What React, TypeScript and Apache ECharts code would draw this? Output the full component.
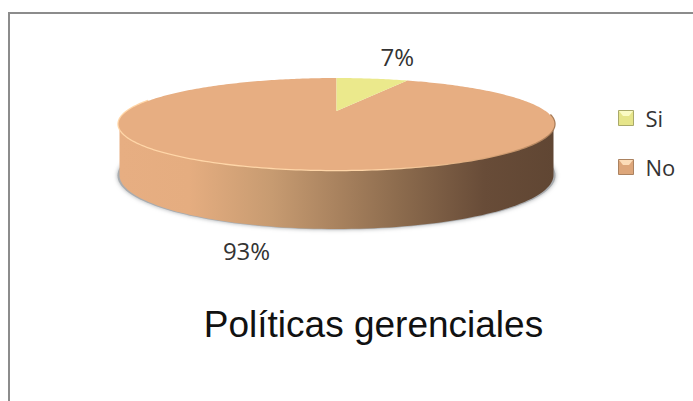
import React, { useEffect, useRef } from "react";
import * as echarts from "echarts";

const categories = ["Si", "No"];
const values = [7, 93];
const sliceColors = ["#ebe98c", "#e7ae82"];
const chartTitle = "Políticas gerenciales";

// Perspective projection of the pie disc onto the page
const APEX_X = 336.5;
const APEX_Y = 111;
const SCALE_X = 209;
const SCALE_Y = 42.3;
const TILT = 0.2828;

function project(angleDeg: number) {
  const t = (angleDeg * Math.PI) / 180;
  const u = Math.sin(t);
  const v = -Math.cos(t);
  const d = 1 - TILT * v;
  return [APEX_X + (SCALE_X * u) / d, APEX_Y + (SCALE_Y * v) / d];
}

function arcPoints(from: number, to: number) {
  const pts: number[][] = [];
  const n = Math.max(2, Math.ceil(Math.abs(to - from)));
  for (let i = 0; i <= n; i++) pts.push(project(from + ((to - from) * i) / n));
  return pts;
}

function ellipsePoints(cx: number, cy: number, rx: number, ry: number, from: number, to: number) {
  const pts: number[][] = [];
  for (let a = from; a <= to; a += 2) {
    const t = (a * Math.PI) / 180;
    pts.push([cx + rx * Math.cos(t), cy + ry * Math.sin(t)]);
  }
  return pts;
}

const total = values.reduce((a, b) => a + b, 0);
const startAngle = (index: number) =>
  (values.slice(0, index).reduce((a, b) => a + b, 0) / total) * 360;

// Text sits away from the rim of its slice
const labelOffsets = [
  [25, -22],
  [-27, 23],
];
const rimDepth = [0, 59];

const renderBody = () => {
  const lower = ellipsePoints(336.5, 175, 217, 54, 0, 180);
  const wall = [[553.5, 124], ...lower, [119.5, 124]];
  const halo = ellipsePoints(336.5, 175.5, 219, 54, -20, 200);
  const rim = arcPoints(285, 95);
  const wallFill = new echarts.graphic.LinearGradient(0, 0, 1, 0, [
    { offset: 0, color: "#e7ae82" },
    { offset: 0.16, color: "#e5ad80" },
    { offset: 0.35, color: "#c79b71" },
    { offset: 0.64, color: "#8d6c4e" },
    { offset: 0.84, color: "#684c38" },
    { offset: 1, color: "#604633" },
  ]);
  const rimStroke = new echarts.graphic.LinearGradient(0, 0, 1, 0, [
    { offset: 0, color: "#ffd6a8" },
    { offset: 0.6, color: "#ffd6a8" },
    { offset: 0.85, color: "#d9a578" },
    { offset: 1, color: "#a87c58" },
  ]);
  return {
    type: "group",
    children: [
      {
        type: "polygon",
        shape: { points: halo },
        style: { fill: "#a9acaf", shadowBlur: 4, shadowColor: "#a9acaf" },
      },
      { type: "polygon", shape: { points: wall }, style: { fill: wallFill } },
      {
        type: "polyline",
        z2: 5,
        shape: { points: rim },
        style: { fill: "none", stroke: rimStroke, lineWidth: 2.5 },
      },
    ],
  };
};

const renderSlice = (index: number) => (_params: any, api: any) => {
  const sweep = (api.value(0) / total) * 360;
  const from = startAngle(index);
  const arc = arcPoints(from, from + sweep);
  const mid = project(from + sweep / 2);
  return {
    type: "group",
    children: [
      {
        type: "polygon",
        shape: { points: [[APEX_X, APEX_Y], ...arc] },
        style: { fill: sliceColors[index] },
      },
      {
        type: "text",
        style: {
          text: `${api.value(0)}%`,
          x: mid[0] + labelOffsets[index][0],
          y: mid[1] + rimDepth[index] + labelOffsets[index][1],
          align: "center",
          verticalAlign: "middle",
          fill: "#333333",
          font: "24px 'Open Sans'",
        },
      },
    ],
  };
};

const legendIcon = (fill: string, border: string) => ({
  color: fill,
  borderColor: border,
  borderWidth: 1,
});

const legendStyles = [legendIcon("#e6e58a", "#a9a96a"), legendIcon("#dda67a", "#ab8260")];
const legendHighlights = ["#fbfbc4", "#fcdcb8"];
const legendTop = [110, 159];

export default function App() {
  const ref = useRef<HTMLDivElement>(null);

  useEffect(() => {
    document.body.style.margin = "0";
    const chart = echarts.init(ref.current!, undefined, { renderer: "svg" });
    chart.setOption({
      animation: false,
      backgroundColor: "#ffffff",
      title: {
        text: chartTitle,
        left: 368.5,
        top: 301,
        textAlign: "center",
        textStyle: {
          fontFamily: "Liberation Sans",
          fontSize: 37,
          fontWeight: "normal",
          color: "#111111",
        },
      },
      legend: {
        orient: "vertical",
        left: 618,
        top: 107,
        padding: 0,
        itemWidth: 15,
        itemHeight: 15,
        itemGap: 27,
        icon: "rect",
        textStyle: { fontFamily: "Open Sans", fontSize: 22, color: "#333333", padding: [0, 0, 0, 7] },
        data: categories.map((name, i) => ({ name, itemStyle: legendStyles[i] })),
      },
      graphic: [
        { type: "rect", shape: { x: 9, y: 12, width: 684, height: 2 }, style: { fill: "#8c8c8c" } },
        { type: "rect", shape: { x: 8, y: 12, width: 2, height: 389 }, style: { fill: "#8c8c8c" } },
        ...legendTop.map((top, i) => ({
          type: "polygon",
          z: 20,
          shape: { points: [[619, top + 1], [633, top + 1], [629, top + 6], [623, top + 6]] },
          style: { fill: legendHighlights[i] },
        })),
      ],
      series: [
        {
          type: "custom",
          name: "base",
          coordinateSystem: "none",
          silent: true,
          data: [total],
          renderItem: renderBody,
          z: 1,
        },
        ...categories.map((name, i) => ({
          type: "custom",
          name,
          coordinateSystem: "none",
          silent: true,
          itemStyle: { color: sliceColors[i] },
          data: [values[i]],
          renderItem: renderSlice(i),
          z: i === 1 ? 2 : 3,
        })),
      ],
    });
    return () => chart.dispose();
  }, []);

  return <div ref={ref} style={{ position: "absolute", left: 0, top: 0, width: 693, height: 401 }} />;
}
